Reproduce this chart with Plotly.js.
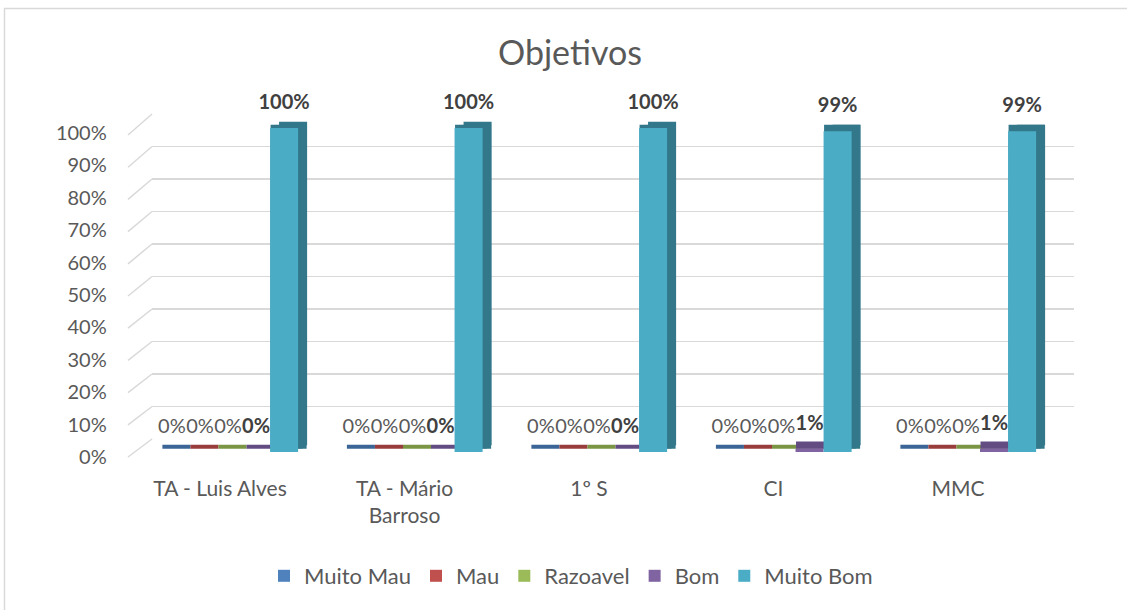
<!DOCTYPE html>
<html>
<head>
<meta charset="utf-8">
<script src="https://cdn.plot.ly/plotly-3.0.1.min.js"></script>
<style>
  html, body { margin: 0; padding: 0; background: #ffffff; }
  #chart { width: 1127px; height: 610px; }
</style>
</head>
<body>
<div id="chart"></div>
<script>
// ---------- data ----------
const categories = ['TA - Luis Alves', 'TA - Mário Barroso', '1º S', 'CI', 'MMC'];
const categoryTickLabels = ['TA - Luis Alves', 'TA - Mário<br>Barroso', '1º S', 'CI', 'MMC'];
const seriesNames = ['Muito Mau', 'Mau', 'Razoavel', 'Bom', 'Muito Bom'];
const muitoMau = [0, 0, 0, 0, 0];
const mau = [0, 0, 0, 0, 0];
const razoavel = [0, 0, 0, 0, 0];
const bom = [0, 0, 0, 0.01, 0.01];
const muitoBom = [1, 1, 1, 0.99, 0.99];
const yTickValues = [0, 0.1, 0.2, 0.3, 0.4, 0.5, 0.6, 0.7, 0.8, 0.9, 1.0];

// ---------- styling ----------
const W = 1127, H = 610;
const px = v => v / W;
const py = v => 1 - v / H;
const seriesValues = [muitoMau, mau, razoavel, bom, muitoBom];
const frontColors = ['#4f81bd', '#c0504d', '#9bbb59', '#8064a2', '#4bacc6'];
const backColors = ['#3b6596', '#983d3b', '#7a9644', '#634c82', '#33788a'];
const boldSeries = [false, false, false, true, true];
const FONT = 'Lato, "Open Sans", sans-serif';
const TXT = '#595959';

// front bar plane: category 0 centred at 228px, 184.5px per category
const frontX = [228 - 92.25, 228 + 4 * 184.5 + 92.25];
const frontY = [452, 128];
const depthX = 9, depthY = 6.5;
const textLift = 12;

const traces = [];
// empty trace that anchors the back-wall grid subplot
traces.push({ type: 'scatter', x: [], y: [], xaxis: 'x', yaxis: 'y', showlegend: false, hoverinfo: 'skip' });

function layer(axisX, axisY, extra) {
  seriesValues.forEach((vals, i) => {
    traces.push(Object.assign({
      type: 'bar', x: categories, y: vals, name: seriesNames[i],
      xaxis: axisX, yaxis: axisY, showlegend: false, hoverinfo: 'skip'
    }, extra(i)));
  });
}
// back (depth) face
layer('x2', 'y2', i => ({ marker: { color: backColors[i], line: { width: 0 } } }));
// mid-depth slab (gives thickness to flat bars)
layer('x3', 'y3', i => ({ marker: { color: backColors[i], line: { color: backColors[i], width: 8 } } }));
// front face
layer('x4', 'y4', i => ({ showlegend: true, hoverinfo: 'x+y+name',
                          marker: { color: frontColors[i], line: { width: 0 } } }));
// value labels
layer('x5', 'y5', i => ({
  marker: { color: 'rgba(0,0,0,0)', line: { color: 'rgba(0,0,0,0)', width: 1 } },
  texttemplate: boldSeries[i] ? '<b>%{y:.0%}</b>' : '%{y:.0%}',
  textposition: 'outside', constraintext: 'none', cliponaxis: false,
  textfont: { family: FONT, size: 20, color: boldSeries[i] ? '#404040' : TXT }
}));

// side-wall grid lines and chart border
const shapes = yTickValues.map(v => ({
  type: 'line', xref: 'paper', yref: 'paper',
  x0: px(128), y0: py(457 - 322 * v), x1: px(152), y1: py(439 - 325 * v),
  line: { color: '#d9d9d9', width: 1.5 }
}));
shapes.push({ type: 'line', xref: 'paper', yref: 'paper', x0: px(4.5), x1: px(4.5), y0: py(8), y1: 0,
              line: { color: '#d9d9d9', width: 1.5 } });
shapes.push({ type: 'line', xref: 'paper', yref: 'paper', x0: px(4), x1: 1, y0: py(8.5), y1: py(8.5),
              line: { color: '#d9d9d9', width: 1.5 } });

const hiddenX = { type: 'category', range: [-0.5, 4.5], showgrid: false, zeroline: false,
                  showticklabels: false, ticks: '', showline: false, fixedrange: true };
const hiddenY = { range: [0, 1], showgrid: false, zeroline: false, showticklabels: false,
                  ticks: '', showline: false, fixedrange: true };
const shiftX = d => [px(frontX[0] + d), px(frontX[1] + d)];
const shiftY = d => [py(frontY[0] - d), py(frontY[1] - d)];

const layout = {
  width: W, height: H,
  margin: { l: 0, r: 0, t: 0, b: 0 },
  paper_bgcolor: '#ffffff', plot_bgcolor: 'rgba(0,0,0,0)',
  font: { family: FONT, size: 20, color: TXT },
  title: { text: 'Objetivos', x: px(570), xanchor: 'center', y: py(53), yanchor: 'middle',
           font: { family: FONT, size: 34, color: TXT } },
  barmode: 'group', bargap: 0.24, bargroupgap: 0,
  showlegend: true,
  legend: { orientation: 'h', x: px(571), xanchor: 'center', y: py(576), yanchor: 'middle',
            font: { family: FONT, size: 22, color: TXT }, traceorder: 'normal' },
  // back wall grid
  xaxis: { domain: [px(152), px(1074)], range: [0, 1], showgrid: false, zeroline: false,
           showticklabels: false, ticks: '', fixedrange: true },
  yaxis: { domain: [py(439), py(114)], range: [-0.0001, 1.0001], tickvals: yTickValues,
           showgrid: true, gridcolor: '#d9d9d9', gridwidth: 1.5, zeroline: false,
           showticklabels: false, ticks: '', fixedrange: true },
  xaxis2: Object.assign({}, hiddenX, { anchor: 'y2', domain: shiftX(depthX) }),
  yaxis2: Object.assign({}, hiddenY, { anchor: 'x2', domain: shiftY(depthY) }),
  xaxis3: Object.assign({}, hiddenX, { anchor: 'y3', domain: shiftX(depthX / 2) }),
  yaxis3: Object.assign({}, hiddenY, { anchor: 'x3', domain: shiftY(depthY / 2) }),
  xaxis4: Object.assign({}, hiddenX, { anchor: 'y4', domain: shiftX(0),
           showticklabels: true, tickvals: categories, ticktext: categoryTickLabels,
           ticklabelshift: -8, ticklabelstandoff: 22,
           tickfont: { family: FONT, size: 21, color: TXT } }),
  yaxis4: Object.assign({}, hiddenY, { anchor: 'x4', domain: shiftY(0),
           showticklabels: true, tickvals: yTickValues, tickformat: '.0%',
           ticklabelshift: 5, ticklabelstandoff: 28,
           tickfont: { family: FONT, size: 20, color: TXT } }),
  xaxis5: Object.assign({}, hiddenX, { anchor: 'y5', domain: shiftX(0) }),
  yaxis5: Object.assign({}, hiddenY, { anchor: 'x5', domain: shiftY(textLift) }),
  shapes: shapes
};

Plotly.newPlot('chart', traces, layout, { displayModeBar: false, staticPlot: true });
</script>
</body>
</html>
